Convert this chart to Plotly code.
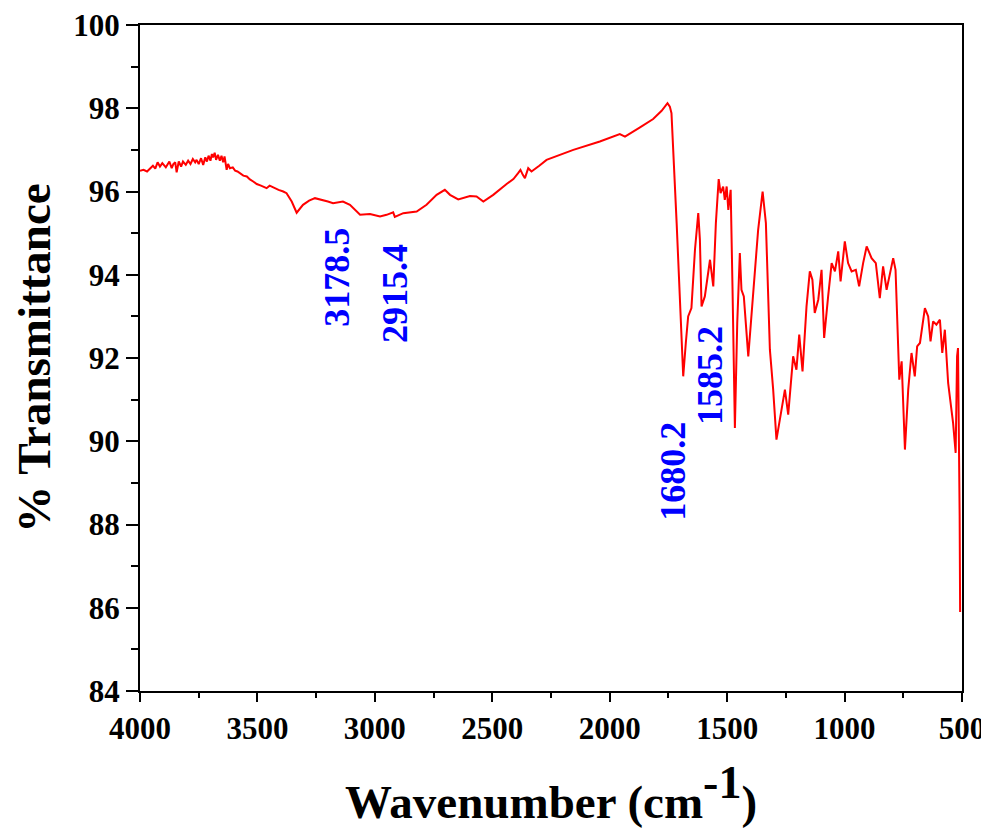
import plotly.graph_objects as go

# FTIR spectrum (wavenumber in cm-1, % transmittance)
wavenumber = [
    4000, 3985, 3970, 3957, 3945, 3935, 3925, 3915, 3905, 3890, 3875, 3865, 3858, 3850, 3844,
    3835, 3825, 3817, 3805, 3795, 3785, 3775, 3765, 3759, 3750, 3740, 3731, 3722, 3715, 3708,
    3700, 3694, 3689, 3682, 3676, 3668, 3660, 3653, 3646, 3640, 3635, 3631, 3625, 3617, 3605,
    3595, 3585, 3574, 3560, 3545, 3532, 3518, 3503, 3485, 3461, 3448, 3434, 3410, 3390, 3376,
    3354, 3333, 3306, 3280, 3255, 3220, 3200,
    3178, 3136, 3106, 3063, 3021, 2978, 2950, 2922, 2915, 2879, 2822, 2780, 2737, 2702,
    2680, 2645, 2595, 2567, 2538, 2496, 2439, 2410, 2390, 2380, 2370, 2361, 2347, 2333, 2300, 2269, 2155,
    2042, 1957, 1935, 1871, 1815, 1779, 1754, 1744, 1737, 1715, 1701, 1687, 1676, 1666,
    1652, 1637, 1623, 1616, 1609, 1595, 1573, 1566, 1559, 1548, 1536, 1528, 1517, 1510,
    1502, 1495, 1485, 1477, 1467, 1457, 1446, 1439, 1429, 1410, 1389, 1368, 1349, 1335,
    1318, 1304, 1290, 1268, 1254, 1240, 1219, 1205, 1193, 1179, 1162, 1148, 1137, 1127,
    1112, 1098, 1087, 1070, 1055, 1041, 1027, 1017, 999, 985, 970, 952, 938, 921, 906,
    885, 867, 850, 836, 821, 810, 793, 783, 774, 767, 757, 743, 729, 715, 701, 691, 679,
    668, 658, 644, 634, 623, 609, 594, 584, 573, 559, 545, 538, 527, 521, 517, 513, 510, 508,
]
transmittance = [
    96.50, 96.52, 96.48, 96.56, 96.62, 96.55, 96.70, 96.60, 96.68, 96.58, 96.72, 96.56, 96.66, 96.70, 96.46,
    96.72, 96.60, 96.72, 96.64, 96.74, 96.66, 96.78, 96.70, 96.76, 96.66, 96.80, 96.64, 96.82, 96.72, 96.86,
    96.74, 96.90, 96.82, 96.93, 96.76, 96.88, 96.74, 96.86, 96.70, 96.84, 96.62, 96.52, 96.66, 96.56, 96.58,
    96.50, 96.48, 96.44, 96.38, 96.36, 96.29, 96.24, 96.18, 96.14, 96.08, 96.14, 96.10, 96.04, 96.00, 95.96,
    95.76, 95.49, 95.68, 95.78, 95.84, 95.80, 95.76,
    95.72, 95.76, 95.68, 95.44, 95.46, 95.40, 95.44, 95.50, 95.39, 95.48, 95.52, 95.68, 95.92, 96.04,
    95.92, 95.81, 95.89, 95.88, 95.76, 95.92, 96.18, 96.30, 96.44, 96.52, 96.40, 96.32, 96.56, 96.48, 96.62, 96.76, 97.00,
    97.20, 97.38, 97.32, 97.54, 97.74, 97.94, 98.12, 98.04, 97.88, 95.24, 93.24, 91.56, 92.36, 93.00,
    93.20, 94.60, 95.48, 94.84, 93.24, 93.48, 94.36, 94.08, 93.72, 95.24, 96.30, 95.96, 96.12, 95.80,
    96.12, 95.56, 96.04, 93.64, 90.32, 92.84, 94.52, 93.64, 93.48, 92.04, 93.64, 95.08, 96.00, 95.24,
    92.20, 91.24, 90.04, 90.76, 91.24, 90.64, 92.04, 91.72, 92.56, 91.68, 93.24, 94.08, 93.88, 93.08,
    93.40, 94.12, 92.48, 93.48, 94.28, 94.08, 94.56, 93.84, 94.80, 94.28, 94.08, 94.12, 93.72, 94.28, 94.68,
    94.40, 94.28, 93.44, 94.20, 93.64, 93.96, 94.40, 94.12, 92.84, 91.48, 91.92, 89.80, 91.24, 92.12, 91.56, 92.28, 92.36,
    92.84, 93.20, 93.00, 92.40, 92.88, 92.80, 92.92, 92.12, 92.68, 91.40, 90.76, 90.44, 89.72, 92.04, 92.24, 90.40, 88.20, 85.90,
]

# Peak labels and where they sit on the chart
peak_labels = ["3178.5", "2915.4", "1680.2", "1585.2"]
label_x = [3162, 2914, 1731, 1573]
label_y = [93.95, 93.54, 89.29, 91.57]

x_ticks = [4000, 3500, 3000, 2500, 2000, 1500, 1000, 500]
y_ticks = [84, 86, 88, 90, 92, 94, 96, 98, 100]

FONT = "Liberation Serif, Times New Roman, serif"

fig = go.Figure()
fig.add_trace(go.Scatter(
    x=wavenumber, y=transmittance, mode="lines",
    line=dict(color="#ff0000", width=2), showlegend=False,
))

for txt, lx, ly in zip(peak_labels, label_x, label_y):
    fig.add_annotation(
        x=lx, y=ly, xref="x", yref="y", text=txt, showarrow=False,
        textangle=-90, xanchor="center", yanchor="middle",
        font=dict(family=FONT, size=36, color="#0000ff", weight="bold"),
    )

# page body has an 8px margin; the figure fills the window from that offset
fig.update_layout(
    width=981, height=828,
    margin=dict(l=132, r=27, t=17, b=145),
    paper_bgcolor="white", plot_bgcolor="white",
    font=dict(family=FONT, color="black"),
)
fig.update_xaxes(
    range=[4000, 500], tickvals=x_ticks, ticktext=[str(v) for v in x_ticks],
    showline=True, linecolor="black", linewidth=2, mirror=True,
    ticks="outside", ticklen=9, tickwidth=2, tickcolor="black",
    minor=dict(ticks="outside", ticklen=5, tickwidth=2, dtick=250, tickcolor="black", showgrid=False),
    showgrid=False, zeroline=False, automargin=False, ticklabeloverflow="allow",
    tickfont=dict(family=FONT, size=31, color="black", weight="bold"),
    title=dict(text="Wavenumber (cm<sup><span style='font-size:46px'>-1</span></sup>)", standoff=40,
               font=dict(family=FONT, size=47, color="black", weight="bold")),
)
fig.update_yaxes(
    range=[84, 100], tickvals=y_ticks, ticktext=[str(v) for v in y_ticks],
    showline=True, linecolor="black", linewidth=2, mirror=True,
    ticks="outside", ticklen=12, tickwidth=2, tickcolor="black",
    minor=dict(ticks="outside", ticklen=7, tickwidth=2, dtick=1, tickcolor="black", showgrid=False),
    showgrid=False, zeroline=False, automargin=False, ticklabeloverflow="allow",
    tickfont=dict(family=FONT, size=31, color="black", weight="bold"),
    title=dict(text="% Transmittance", standoff=14,
               font=dict(family=FONT, size=47, color="black", weight="bold")),
)

fig.write_html("out.html")
